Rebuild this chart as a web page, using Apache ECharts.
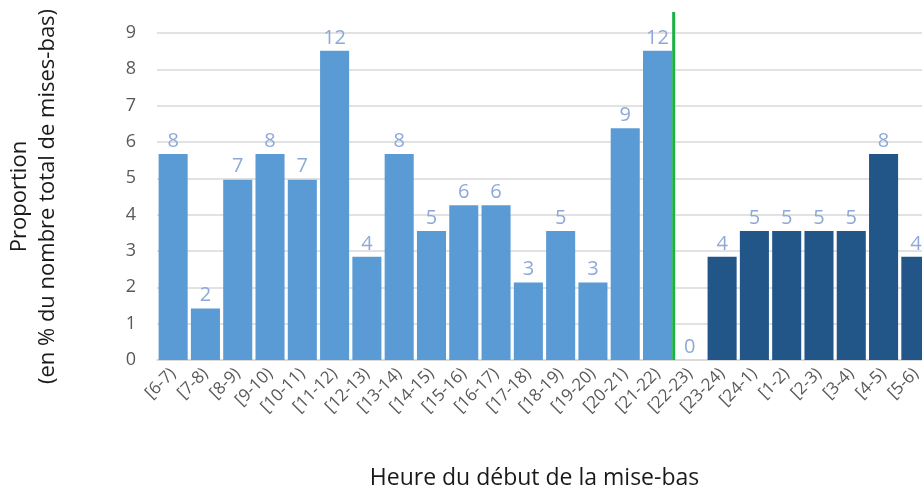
<!DOCTYPE html>
<html>
<head>
<meta charset="utf-8">
<script src="https://cdn.jsdelivr.net/npm/echarts@6/dist/echarts.min.js"></script>
<style>
  html, body { margin: 0; padding: 0; background: #fff; }
  #chart { width: 922px; height: 493px; }
</style>
</head>
<body>
<div id="chart"></div>
<script>
// hour slots, from 6h in the morning round to 6h next morning
const hours = ['[6-7)', '[7-8)', '[8-9)', '[9-10)', '[10-11)', '[11-12)', '[12-13)', '[13-14)',
  '[14-15)', '[15-16)', '[16-17)', '[17-18)', '[18-19)', '[19-20)', '[20-21)', '[21-22)',
  '[22-23)', '[23-24)', '[24-1)', '[1-2)', '[2-3)', '[3-4)', '[4-5)', '[5-6)']

// proportion in % (bar height)
const proportion = [5.67, 1.42, 4.96, 5.67, 4.96, 8.51, 2.84, 5.67,
  3.55, 4.26, 4.26, 2.13, 3.55, 2.13, 6.38, 8.51,
  0, 2.84, 3.55, 3.55, 3.55, 3.55, 5.67, 2.84]

// number of births (label on top)
const counts = [8, 2, 7, 8, 7, 12, 4, 8, 5, 6, 6, 3, 5, 3, 9, 12, 0, 4, 5, 5, 5, 5, 8, 4]

// night starts at the slot [22-23)
const nightStart = 16

const yTicks = { min: 0, max: 9, interval: 1 }

const font = '"Open Sans", "Noto Sans", sans-serif'

const barData = proportion.map((v, i) => ({
  value: v,
  itemStyle: { color: i >= nightStart ? '#225689' : '#5B9BD5' }
}))

const option = {
  animation: false,
  textStyle: { fontFamily: font },
  grid: [
    { left: 157, right: -10, top: 33, bottom: 133, containLabel: false, outerBoundsMode: 'none' },
    { left: 157, right: -10, top: 12, bottom: 133, containLabel: false, outerBoundsMode: 'none' }
  ],
  xAxis: [
    {
      type: 'category',
      gridIndex: 0,
      data: hours,
      axisTick: { show: false },
      axisLine: { lineStyle: { color: '#d9d9d9', width: 1.5 } },
      axisLabel: {
        rotate: 45,
        interval: 0,
        margin: 11,
        color: '#595959',
        fontSize: 17,
        fontFamily: font
      },
      name: 'Heure du début de la mise-bas',
      nameLocation: 'middle',
      nameGap: 107,
      nameTextStyle: { color: '#1a1a1a', fontSize: 23, fontFamily: font, padding: [0, 20, 0, 0] }
    },
    {
      type: 'value',
      gridIndex: 1,
      min: 0,
      max: hours.length,
      show: false
    }
  ],
  yAxis: [
    {
      type: 'value',
      gridIndex: 0,
      min: yTicks.min,
      max: yTicks.max,
      interval: yTicks.interval,
      axisLine: { show: false },
      axisTick: { show: false },
      axisLabel: { color: '#595959', fontSize: 18, margin: 21, fontFamily: font },
      splitLine: { lineStyle: { color: '#d9d9d9', width: 1.5 } },
      name: 'Proportion\n(en % du nombre total de mises-bas)',
      nameLocation: 'middle',
      nameRotate: 90,
      nameGap: 95,
      nameTextStyle: { color: '#1a1a1a', fontSize: 22, lineHeight: 28, fontFamily: font }
    },
    {
      type: 'value',
      gridIndex: 1,
      min: 0,
      max: 1,
      show: false
    }
  ],
  series: [
    {
      type: 'bar',
      xAxisIndex: 0,
      yAxisIndex: 0,
      data: barData,
      barCategoryGap: '10%',
      label: {
        show: true,
        position: 'top',
        distance: 3,
        color: '#8EA9D8',
        fontSize: 20,
        fontFamily: font,
        formatter: p => counts[p.dataIndex]
      }
    },
    {
      type: 'line',
      xAxisIndex: 1,
      yAxisIndex: 1,
      data: [[nightStart, 0], [nightStart, 1]],
      symbol: 'none',
      lineStyle: { color: '#1DB045', width: 3 },
      z: 5
    }
  ]
}

echarts.init(document.getElementById('chart')).setOption(option)
</script>
</body>
</html>
